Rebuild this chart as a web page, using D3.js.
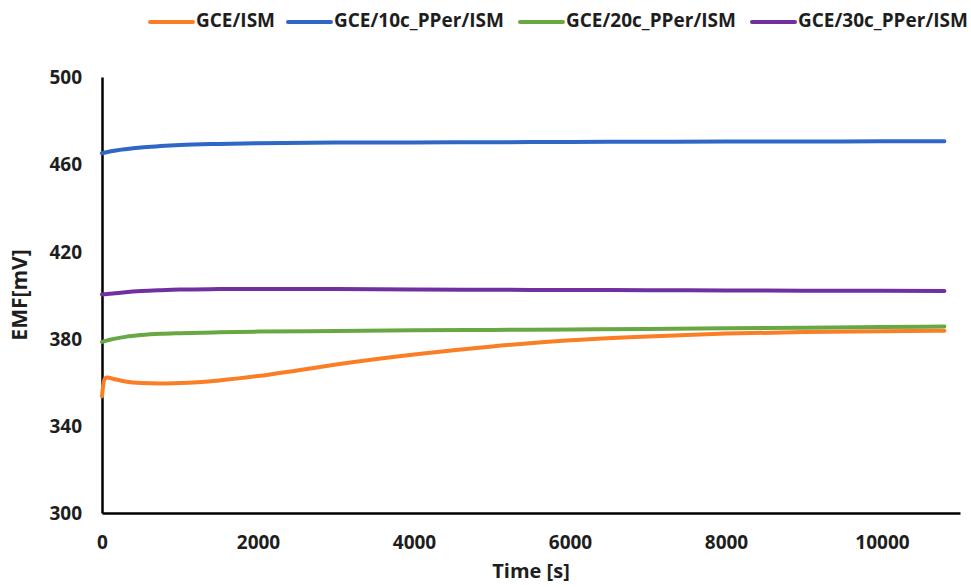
<!DOCTYPE html>
<html>
<head>
<meta charset="utf-8">
<script src="https://cdn.jsdelivr.net/npm/d3@7"></script>
<style>
  html, body { margin: 0; padding: 0; background: #fff; }
  svg { display: block; }
  text { font-family: "Open Sans", "Liberation Sans", sans-serif; font-weight: 700; fill: #1e1e1e; }
</style>
</head>
<body>
<svg id="chart" width="971" height="587"></svg>
<script>
// Potential (EMF) drift of the electrodes over three hours
const seriesNames = ["GCE/ISM", "GCE/10c_PPer/ISM", "GCE/20c_PPer/ISM", "GCE/30c_PPer/ISM"];
const seriesColors = ["#FA7E26", "#2F67C5", "#68A844", "#7030A0"];

const timeGce = [0, 15, 40, 70, 150, 300, 500, 750, 1000, 1500, 2000, 2500, 3000, 4000, 5000, 6000, 7000, 8000, 9000, 10000, 10800];
const emfGce  = [353.5, 358.5, 361.8, 362.2, 361.5, 360.3, 359.6, 359.4, 359.6, 360.8, 362.8, 365.4, 368.1, 372.7, 376.4, 379.2, 381.0, 382.3, 383.0, 383.4, 383.6];

const timeCoated = [0, 100, 300, 500, 750, 1000, 1500, 2000, 3000, 4000, 5000, 6000, 7000, 8000, 9000, 10000, 10800];
const emf10c = [465.0, 465.8, 466.9, 467.7, 468.3, 468.8, 469.3, 469.6, 469.9, 470.0, 470.1, 470.2, 470.3, 470.4, 470.4, 470.5, 470.5];
const emf20c = [378.5, 379.5, 380.8, 381.6, 382.2, 382.5, 382.9, 383.2, 383.5, 383.8, 384.0, 384.2, 384.4, 384.7, 385.0, 385.3, 385.5];
const emf30c = [400.2, 400.6, 401.3, 401.8, 402.2, 402.5, 402.7, 402.8, 402.7, 402.5, 402.4, 402.3, 402.2, 402.1, 402.0, 401.9, 401.8];

const xTicks = [0, 2000, 4000, 6000, 8000, 10000];
const yTicks = [300, 340, 380, 420, 460, 500];

const series = [
  { name: seriesNames[0], color: seriesColors[0], t: timeGce,    v: emfGce },
  { name: seriesNames[1], color: seriesColors[1], t: timeCoated, v: emf10c },
  { name: seriesNames[2], color: seriesColors[2], t: timeCoated, v: emf20c },
  { name: seriesNames[3], color: seriesColors[3], t: timeCoated, v: emf30c }
];

const svg = d3.select("#chart");
const x = d3.scaleLinear().domain([0, 11000]).range([102, 960]);
const y = d3.scaleLinear().domain([300, 500]).range([513, 77]);

// axes (no tick marks, bold labels)
const xAxis = svg.append("g")
  .attr("transform", `translate(0,${y(300)})`)
  .call(d3.axisBottom(x).tickValues(xTicks).tickSize(0).tickPadding(0).tickFormat(d3.format("d")));
xAxis.select(".domain").attr("stroke", "#000").attr("stroke-width", 2.5);
xAxis.selectAll("text").attr("dy", null).attr("y", 36).attr("font-size", 19).attr("fill", "#1e1e1e");

const yAxis = svg.append("g")
  .attr("transform", `translate(${x(0)},0)`)
  .call(d3.axisLeft(y).tickValues(yTicks).tickSize(0).tickPadding(0).tickFormat(d3.format("d")));
yAxis.select(".domain").attr("stroke", "#000").attr("stroke-width", 2.5);
yAxis.selectAll("text").attr("x", -20).attr("dy", "0.35em").attr("font-size", 19).attr("fill", "#1e1e1e");
svg.selectAll(".tick text").attr("font-family", "'Open Sans', sans-serif").attr("font-weight", 700);

// series lines
const line = d3.line().curve(d3.curveMonotoneX);
svg.append("g").selectAll("path")
  .data(series)
  .join("path")
  .attr("fill", "none")
  .attr("stroke", d => d.color)
  .attr("stroke-width", 4)
  .attr("stroke-linecap", "round")
  .attr("d", d => line(d.t.map((t, i) => [x(t), y(d.v[i])])));

// axis titles
svg.append("text")
  .attr("x", (x(0) + x(11000)) / 2).attr("y", 573)
  .attr("text-anchor", "middle").attr("dominant-baseline", "middle")
  .attr("font-size", 20)
  .text("Time [s]");
svg.append("text")
  .attr("transform", `translate(21,${(y(300) + y(500)) / 2}) rotate(-90)`)
  .attr("text-anchor", "middle").attr("dominant-baseline", "middle")
  .attr("font-size", 21)
  .text("EMF[mV]");

// legend across the top
const legendX = [150, 288, 520, 752];
const legend = svg.append("g").selectAll("g")
  .data(series)
  .join("g")
  .attr("transform", (d, i) => `translate(${legendX[i]},22)`);
legend.append("line")
  .attr("x1", 0).attr("x2", 43)
  .attr("stroke", d => d.color).attr("stroke-width", 4).attr("stroke-linecap", "round");
legend.append("text")
  .attr("x", 46).attr("dominant-baseline", "middle")
  .attr("font-size", 19)
  .text(d => d.name);
</script>
</body>
</html>
